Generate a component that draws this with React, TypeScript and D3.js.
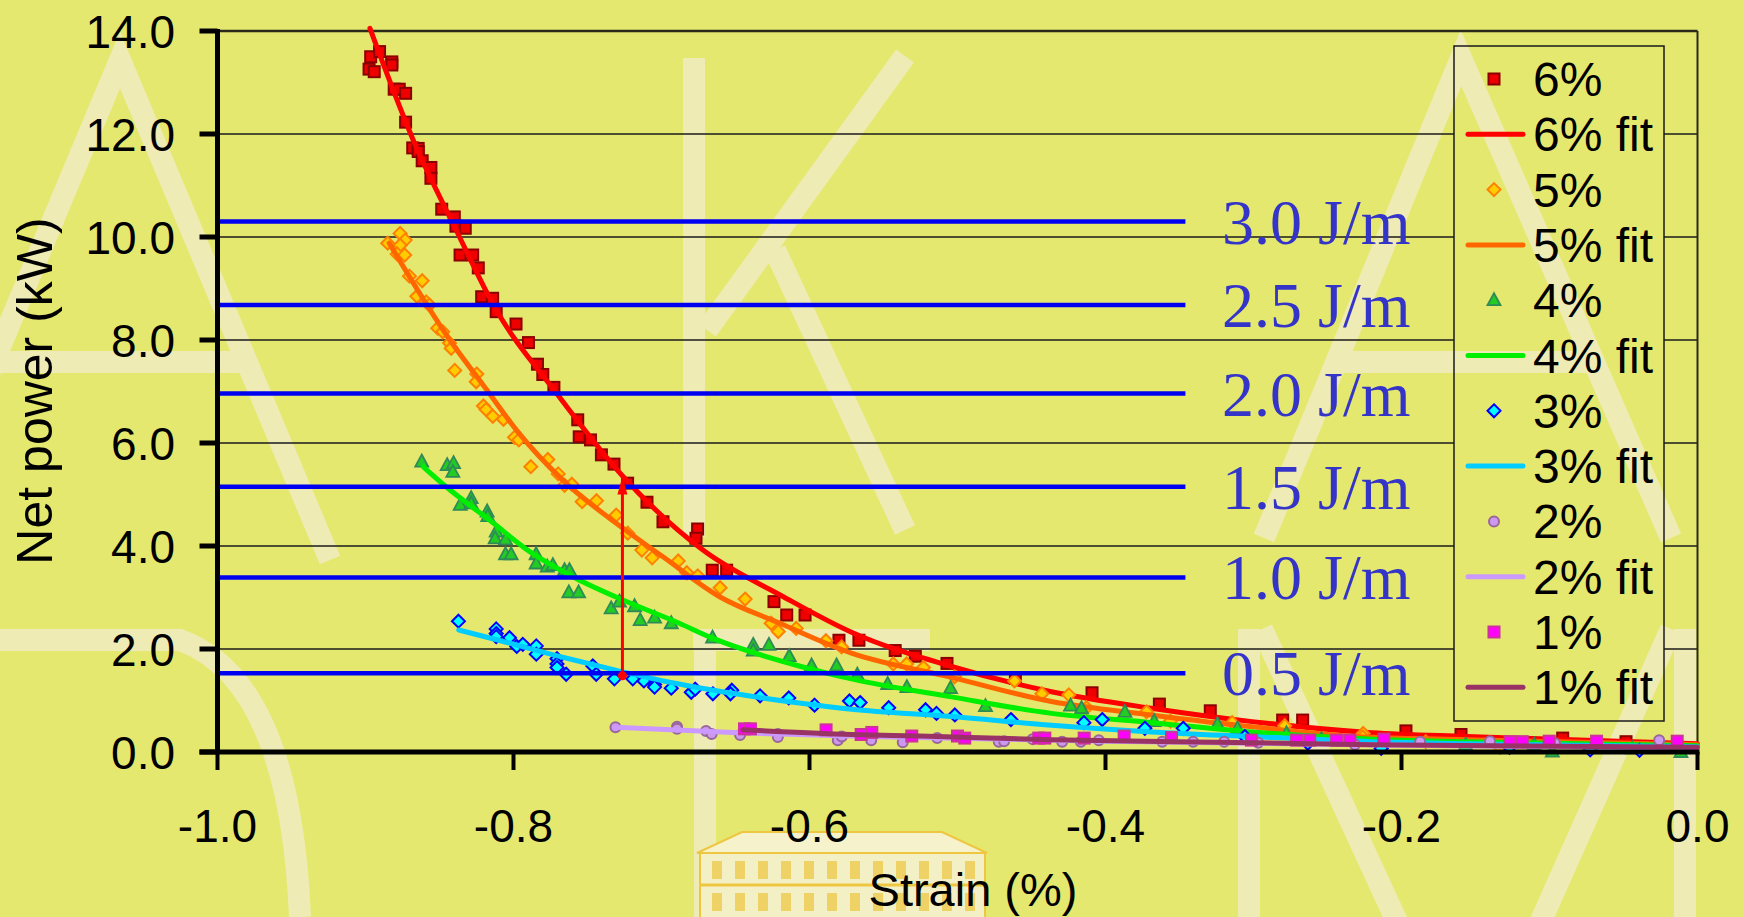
import React, { useEffect } from 'react';
import * as d3 from 'd3';

// axis ticks
const strainTicks = [-1.0, -0.8, -0.6, -0.4, -0.2, 0.0];
const powerTicks = [0, 2, 4, 6, 8, 10, 12, 14];

// constant energy-per-metre lines (kW levels)
const energyLabels = ['3.0 J/m', '2.5 J/m', '2.0 J/m', '1.5 J/m', '1.0 J/m', '0.5 J/m'];
const energyLevels = [10.3, 8.68, 6.96, 5.15, 3.39, 1.53];
const energyLineEnd = -0.346;

// red arrow
const arrowStrain = -0.7264;
const arrowFrom = 1.48;
const arrowTo = 5.35;

// measured points [strain %, net power kW]
const data6 = [
  [-0.8965, 13.5], [-0.8905, 13.6], [-0.8822, 13.4], [-0.8822, 13.34], [-0.8976, 13.26], [-0.8941, 13.21],
  [-0.8806, 12.87], [-0.8772, 12.87], [-0.8729, 12.79], [-0.8729, 12.23], [-0.8681, 11.73], [-0.8644, 11.72],
  [-0.8644, 11.66], [-0.8617, 11.48], [-0.8558, 11.35], [-0.8558, 11.14], [-0.8485, 10.54], [-0.84, 10.39],
  [-0.8389, 10.21], [-0.8326, 10.17], [-0.8361, 9.65], [-0.8276, 9.65], [-0.8238, 9.4], [-0.8215, 8.84],
  [-0.8141, 8.81], [-0.8117, 8.55], [-0.7983, 8.31], [-0.7899, 7.95], [-0.7838, 7.53], [-0.7802, 7.33],
  [-0.7727, 7.08], [-0.7566, 6.45], [-0.7556, 6.12], [-0.748, 6.06], [-0.7406, 5.77], [-0.7321, 5.59],
  [-0.7229, 5.22], [-0.7098, 4.85], [-0.699, 4.47], [-0.6756, 4.33], [-0.6767, 4.15], [-0.6657, 3.53],
  [-0.656, 3.53], [-0.624, 2.92], [-0.6154, 2.66], [-0.603, 2.66], [-0.5801, 2.17], [-0.5666, 2.17],
  [-0.5421, 1.97], [-0.5285, 1.86], [-0.5071, 1.72], [-0.4609, 1.43], [-0.4091, 1.15], [-0.3636, 0.93],
  [-0.3292, 0.8], [-0.2803, 0.62], [-0.2668, 0.62], [-0.197, 0.41], [-0.1598, 0.34], [-0.0911, 0.27],
  [-0.0483, 0.2],
];
const data5 = [
  [-0.885, 9.88], [-0.8766, 10.07], [-0.8732, 9.94], [-0.8766, 9.84], [-0.8786, 9.67], [-0.8735, 9.65],
  [-0.8703, 9.24], [-0.8617, 9.15], [-0.8653, 8.85], [-0.859, 8.74], [-0.8568, 8.68], [-0.8512, 8.23],
  [-0.8478, 8.16], [-0.8432, 7.94], [-0.8421, 7.84], [-0.8397, 7.41], [-0.8248, 7.34], [-0.8252, 7.19],
  [-0.8203, 6.72], [-0.8185, 6.65], [-0.814, 6.52], [-0.8068, 6.46], [-0.7993, 6.11], [-0.7964, 6.06],
  [-0.7883, 5.54], [-0.7768, 5.68], [-0.7698, 5.4], [-0.7655, 5.18], [-0.7606, 5.2], [-0.7536, 4.86],
  [-0.7439, 4.88], [-0.7306, 4.6], [-0.7228, 4.25], [-0.7133, 3.92], [-0.7063, 3.77], [-0.6887, 3.71],
  [-0.6829, 3.48], [-0.6755, 3.42], [-0.6604, 3.19], [-0.6435, 2.97], [-0.6259, 2.5], [-0.6211, 2.34],
  [-0.609, 2.4], [-0.5889, 2.16], [-0.5783, 2.04], [-0.5434, 1.71], [-0.5344, 1.71], [-0.523, 1.64],
  [-0.502, 1.46], [-0.4615, 1.38], [-0.443, 1.13], [-0.4248, 1.11], [-0.4128, 0.86], [-0.3723, 0.78],
  [-0.3561, 0.6], [-0.3144, 0.57], [-0.2789, 0.51], [-0.2259, 0.36], [-0.2262, 0.29], [-0.1836, 0.2],
  [-0.1336, 0.09],
];
const data4 = [
  [-0.862, 5.64], [-0.8448, 5.57], [-0.8405, 5.61], [-0.841, 5.44], [-0.836, 4.8], [-0.8286, 4.93],
  [-0.8286, 4.83], [-0.8178, 4.67], [-0.8174, 4.58], [-0.8117, 4.28], [-0.8124, 4.15], [-0.8054, 4.13],
  [-0.8054, 3.84], [-0.8016, 3.84], [-0.7847, 3.84], [-0.7847, 3.66], [-0.7772, 3.6], [-0.7734, 3.63],
  [-0.7655, 3.53], [-0.7622, 3.53], [-0.7626, 3.1], [-0.756, 3.1], [-0.734, 2.79], [-0.7284, 2.92],
  [-0.7182, 2.83], [-0.7144, 2.56], [-0.7047, 2.61], [-0.6934, 2.5], [-0.6655, 2.22], [-0.638, 2.08],
  [-0.638, 1.97], [-0.6274, 2.08], [-0.6137, 1.86], [-0.5986, 1.68], [-0.5817, 1.68], [-0.5677, 1.5],
  [-0.5472, 1.32], [-0.5342, 1.26], [-0.5047, 1.24], [-0.4811, 0.89], [-0.4236, 0.9], [-0.4162, 0.85],
  [-0.3869, 0.78], [-0.3671, 0.6], [-0.3243, 0.54], [-0.3108, 0.46], [-0.2777, 0.36], [-0.2541, 0.25],
  [-0.1567, 0.14], [-0.1103, 0.14], [-0.0981, 0.01], [-0.0441, 0.07], [-0.0112, 0.0],
];
const data3 = [
  [-0.8372, 2.54], [-0.8117, 2.39], [-0.8117, 2.3], [-0.8117, 2.24], [-0.8027, 2.22], [-0.7978, 2.05],
  [-0.7937, 2.09], [-0.7846, 2.06], [-0.7846, 1.9], [-0.7706, 1.81], [-0.7706, 1.71], [-0.7706, 1.64],
  [-0.7644, 1.51], [-0.7464, 1.67], [-0.7441, 1.51], [-0.7318, 1.42], [-0.7194, 1.42], [-0.7119, 1.38],
  [-0.7047, 1.31], [-0.7047, 1.26], [-0.6934, 1.24], [-0.6799, 1.16], [-0.6772, 1.22], [-0.6653, 1.13],
  [-0.6525, 1.2], [-0.6534, 1.13], [-0.6334, 1.09], [-0.614, 1.05], [-0.5966, 0.91], [-0.573, 0.99],
  [-0.5658, 0.96], [-0.5465, 0.86], [-0.5216, 0.82], [-0.5142, 0.75], [-0.5018, 0.72], [-0.4639, 0.63],
  [-0.4146, 0.57], [-0.4022, 0.63], [-0.3734, 0.46], [-0.3475, 0.46], [-0.3059, 0.3], [-0.2633, 0.17],
  [-0.2137, 0.07], [-0.127, 0.09], [-0.0725, 0.04], [-0.0392, 0.03],
];
const data2 = [
  [-0.7311, 0.48], [-0.6895, 0.49], [-0.6895, 0.45], [-0.6699, 0.41], [-0.6661, 0.35], [-0.6469, 0.33],
  [-0.6214, 0.35], [-0.6214, 0.29], [-0.5809, 0.23], [-0.5782, 0.3], [-0.5583, 0.23], [-0.537, 0.19],
  [-0.5137, 0.27], [-0.4721, 0.2], [-0.4685, 0.21], [-0.4493, 0.25], [-0.4293, 0.2], [-0.4167, 0.2],
  [-0.4045, 0.23], [-0.3617, 0.2], [-0.3408, 0.2], [-0.3198, 0.2], [-0.2968, 0.18], [-0.2315, 0.14],
  [-0.1874, 0.2], [-0.1402, 0.21], [-0.0963, 0.17], [-0.0259, 0.23],
];
const data1 = [
  [-0.6439, 0.45], [-0.6399, 0.45], [-0.5888, 0.43], [-0.5651, 0.34], [-0.5579, 0.38], [-0.5309, 0.31],
  [-0.5, 0.31], [-0.4951, 0.27], [-0.4451, 0.27], [-0.441, 0.27], [-0.4144, 0.27], [-0.3874, 0.31],
  [-0.3554, 0.28], [-0.3014, 0.23], [-0.2709, 0.23], [-0.262, 0.23], [-0.2439, 0.23], [-0.2349, 0.23],
  [-0.2119, 0.25], [-0.1267, 0.2], [-0.1184, 0.2], [-0.1002, 0.21], [-0.0682, 0.21], [-0.0137, 0.21],
];

// fitted curves
const fit6 = [
  [-0.897, 14.05], [-0.868, 11.9], [-0.839, 10.15], [-0.812, 8.6], [-0.771, 6.97], [-0.726, 5.35],
  [-0.672, 3.92], [-0.618, 3.02], [-0.572, 2.33], [-0.504, 1.66], [-0.4365, 1.17], [-0.369, 0.85],
  [-0.301, 0.59], [-0.22, 0.375], [-0.156, 0.3], [0, 0.16],
];
const fit5 = [
  [-0.884, 9.88], [-0.843, 8.0], [-0.818, 7.03], [-0.798, 6.25], [-0.7667, 5.28], [-0.7306, 4.44],
  [-0.699, 3.79], [-0.661, 3.02], [-0.62, 2.5], [-0.5716, 1.92], [-0.504, 1.45], [-0.4365, 0.98],
  [-0.369, 0.72], [-0.301, 0.49], [-0.22, 0.285], [-0.156, 0.24], [0, 0.14],
];
const fit4 = [
  [-0.861, 5.54], [-0.8455, 5.15], [-0.816, 4.5], [-0.789, 3.89], [-0.7576, 3.37], [-0.726, 2.95],
  [-0.688, 2.5], [-0.6655, 2.21], [-0.607, 1.67], [-0.5716, 1.42], [-0.504, 1.07], [-0.4365, 0.75],
  [-0.369, 0.57], [-0.301, 0.39], [-0.22, 0.25], [-0.156, 0.2], [0, 0.12],
];
const fit3 = [
  [-0.837, 2.37], [-0.81, 2.17], [-0.764, 1.82], [-0.731, 1.59], [-0.697, 1.37], [-0.652, 1.14],
  [-0.607, 0.95], [-0.5716, 0.83], [-0.504, 0.69], [-0.4365, 0.52], [-0.369, 0.39], [-0.301, 0.3],
  [-0.22, 0.2], [-0.156, 0.16], [0, 0.1],
];
const fit2 = [[-0.731, 0.48], [-0.652, 0.38], [-0.526, 0.28], [-0.4, 0.21], [-0.2, 0.13], [0, 0.08]];
const fit1 = [[-0.645, 0.43], [-0.5716, 0.34], [-0.526, 0.31], [-0.4365, 0.24], [-0.3, 0.18], [-0.22, 0.14], [0, 0.09]];

const series = [
  { name: '6%', points: data6, fit: fit6, shape: 'square', fill: '#ee0000', stroke: '#8b0000', line: '#ff0000' },
  { name: '5%', points: data5, fit: fit5, shape: 'diamond', fill: '#ffcc00', stroke: '#ff8000', line: '#ff6600' },
  { name: '4%', points: data4, fit: fit4, shape: 'triangle', fill: '#22cc22', stroke: '#2e8b57', line: '#00ee00' },
  { name: '3%', points: data3, fit: fit3, shape: 'diamond', fill: '#00ffff', stroke: '#0000ff', line: '#00ccff' },
  { name: '2%', points: data2, fit: fit2, shape: 'circle', fill: '#cc99ee', stroke: '#996699', line: '#cc99ff' },
  { name: '1%', points: data1, fit: fit1, shape: 'square', fill: '#ff00ff', stroke: '#cc3399', line: '#993366' },
];

const W = 1744;
const H = 917;
const BG = '#e5e86f';
const WM = '#efebb4';
const SANS = 'Arial, "Liberation Sans", sans-serif';
const SERIF = '"Times New Roman", "Liberation Serif", serif';

function Marker({ shape, x, y, fill, stroke }) {
  if (shape === 'square')
    return <rect x={x - 5.5} y={y - 5.5} width={11} height={11} fill={fill} stroke={stroke} strokeWidth={2} />;
  if (shape === 'diamond')
    return <path d={`M${x},${y - 6.5}L${x + 6.5},${y}L${x},${y + 6.5}L${x - 6.5},${y}Z`} fill={fill} stroke={stroke} strokeWidth={2} />;
  if (shape === 'triangle')
    return <path d={`M${x},${y - 7}L${x + 6.5},${y + 5}L${x - 6.5},${y + 5}Z`} fill={fill} stroke={stroke} strokeWidth={1.8} />;
  return <circle cx={x} cy={y} r={5} fill={fill} stroke={stroke} strokeWidth={2} />;
}

// faint building picture under the x-axis title
function Building() {
  const cols = d3.range(0, 12);
  return (
    <g>
      <polygon points="697,853 987,853 942,832 742,832" fill="#f6f2cc" stroke="#eec640" strokeWidth={2} />
      <rect x={700} y={853} width={285} height={70} fill="#f4f0c6" stroke="#eec640" strokeWidth={2} />
      <line x1={700} y1={885} x2={985} y2={885} stroke="#eec640" strokeWidth={3} />
      {cols.map((i) => (
        <g key={i}>
          <rect x={712 + i * 23} y={861} width={10} height={18} fill="#efd266" />
          <rect x={712 + i * 23} y={893} width={10} height={18} fill="#efd266" />
        </g>
      ))}
    </g>
  );
}

export default function App() {
  useEffect(() => {
    document.body.style.margin = '0';
    document.body.style.overflow = 'hidden';
  }, []);

  const x = d3.scaleLinear().domain([-1, 0]).range([217.5, 1697.5]);
  const y = d3.scaleLinear().domain([0, 14]).range([752, 31]);

  const line = d3
    .line()
    .x((d) => x(d[0]))
    .y((d) => y(d[1]))
    .curve(d3.curveMonotoneX);

  const legendX0 = 1454;
  const legendX1 = 1664;
  const legendY0 = 46;
  const legendY1 = 721;
  const rowH = 55.3;
  const firstRow = 79;

  const legendItems = [];
  series.forEach((s) => {
    legendItems.push({ label: s.name, kind: 'marker', s });
    legendItems.push({ label: s.name + ' fit', kind: 'line', s });
  });

  return (
    <svg width={W} height={H} style={{ position: 'absolute', left: 0, top: 0, display: 'block' }}>
      <rect width={W} height={H} fill={BG} />

      {/* watermark letters */}
      <g stroke={WM} strokeWidth={22} fill="none">
        <path d="M-80,538 L120,60 L330,560 M0,362 L245,362" />
        <path d="M694,58 L694,537 M707,330 L905,56 M775,250 L905,530" />
        <path d="M1264,538 L1461,58 L1671,538 M1335,362 L1600,362" />
        <path d="M0,640 L180,640 Q290,680 300,917" />
        <path d="M705,630 L705,917 M693,640 L930,640" />
        <path d="M1249,917 L1249,629 M1262,629 L1470,1080 L1671,629 M1685,629 L1685,917" />
      </g>
      <Building />

      {/* gridlines, gap where the legend sits */}
      {powerTicks.filter((v) => v > 0 && v < 14).map((v) => (
        <g key={v} stroke="#1a1a1a" strokeWidth={1.5}>
          <line x1={x(-1)} x2={legendX0} y1={y(v)} y2={y(v)} />
          <line x1={legendX1} x2={x(0)} y1={y(v)} y2={y(v)} />
        </g>
      ))}
      <line x1={x(-1)} x2={x(0)} y1={y(14)} y2={y(14)} stroke="#2a2a1a" strokeWidth={2.5} />
      <line x1={x(0)} x2={x(0)} y1={y(14)} y2={y(0)} stroke="#2a2a1a" strokeWidth={2} />

      {/* data series and fits */}
      {series.map((s) => (
        <g key={s.name}>
          {s.points.map((p, i) => (
            <Marker key={i} shape={s.shape} x={x(p[0])} y={y(p[1])} fill={s.fill} stroke={s.stroke} />
          ))}
          <path d={line(s.fit)} fill="none" stroke={s.line} strokeWidth={5} strokeLinecap="round" />
        </g>
      ))}

      {/* energy lines */}
      {energyLevels.map((v, i) => (
        <g key={i}>
          <line x1={x(-1)} x2={x(energyLineEnd)} y1={y(v)} y2={y(v)} stroke="#0000f0" strokeWidth={4.5} />
          <text x={1222} y={y(v) + 22} fontFamily={SERIF} fontSize={64} fill="#3434c8">
            {energyLabels[i]}
          </text>
        </g>
      ))}

      {/* red arrow */}
      <line x1={x(arrowStrain)} x2={x(arrowStrain)} y1={y(arrowFrom)} y2={y(arrowTo) + 14} stroke="#ff0000" strokeWidth={3} />
      <circle cx={x(arrowStrain)} cy={y(arrowFrom)} r={4.5} fill="#ff0000" />
      <path
        d={`M${x(arrowStrain)},${y(arrowTo)} L${x(arrowStrain) + 5},${y(arrowTo) + 18} L${x(arrowStrain) - 5},${y(arrowTo) + 18} Z`}
        fill="#ff0000"
      />

      {/* axes */}
      <line x1={x(-1)} x2={x(-1)} y1={y(14) - 2} y2={y(0) + 2} stroke="#000" strokeWidth={5} />
      <line x1={x(-1) - 18} x2={x(0) + 2} y1={y(0)} y2={y(0)} stroke="#000" strokeWidth={5} />
      {powerTicks.map((v) => (
        <g key={v}>
          <line x1={x(-1) - 18} x2={x(-1)} y1={y(v)} y2={y(v)} stroke="#000" strokeWidth={5} />
          <text x={175} y={y(v) + 16.5} textAnchor="end" fontFamily={SANS} fontSize={46} fill="#000">
            {d3.format('.1f')(v)}
          </text>
        </g>
      ))}
      {strainTicks.map((v) => (
        <g key={v}>
          <line x1={x(v)} x2={x(v)} y1={y(0)} y2={y(0) + 18} stroke="#000" strokeWidth={4} />
          <text x={x(v)} y={842} textAnchor="middle" fontFamily={SANS} fontSize={46} fill="#000">
            {d3.format('.1f')(v).replace('−', '-')}
          </text>
        </g>
      ))}
      <text x={973} y={906} textAnchor="middle" fontFamily={SANS} fontSize={47} fill="#000">
        Strain (%)
      </text>
      <text transform="translate(52,391) rotate(-90)" textAnchor="middle" fontFamily={SANS} fontSize={50} fill="#000">
        Net power (kW)
      </text>

      {/* legend */}
      <rect x={legendX0} y={legendY0} width={legendX1 - legendX0} height={legendY1 - legendY0} fill="none" stroke="#1a1a1a" strokeWidth={1.5} />
      {legendItems.map((it, i) => {
        const cy = firstRow + i * rowH;
        return (
          <g key={it.label}>
            {it.kind === 'marker' ? (
              <Marker shape={it.s.shape} x={1494} y={cy} fill={it.s.fill} stroke={it.s.stroke} />
            ) : (
              <line x1={1468} x2={1523} y1={cy} y2={cy} stroke={it.s.line} strokeWidth={5} strokeLinecap="round" />
            )}
            <text x={1533} y={cy + 17} fontFamily={SANS} fontSize={48} fill="#000">
              {it.label}
            </text>
          </g>
        );
      })}
    </svg>
  );
}
